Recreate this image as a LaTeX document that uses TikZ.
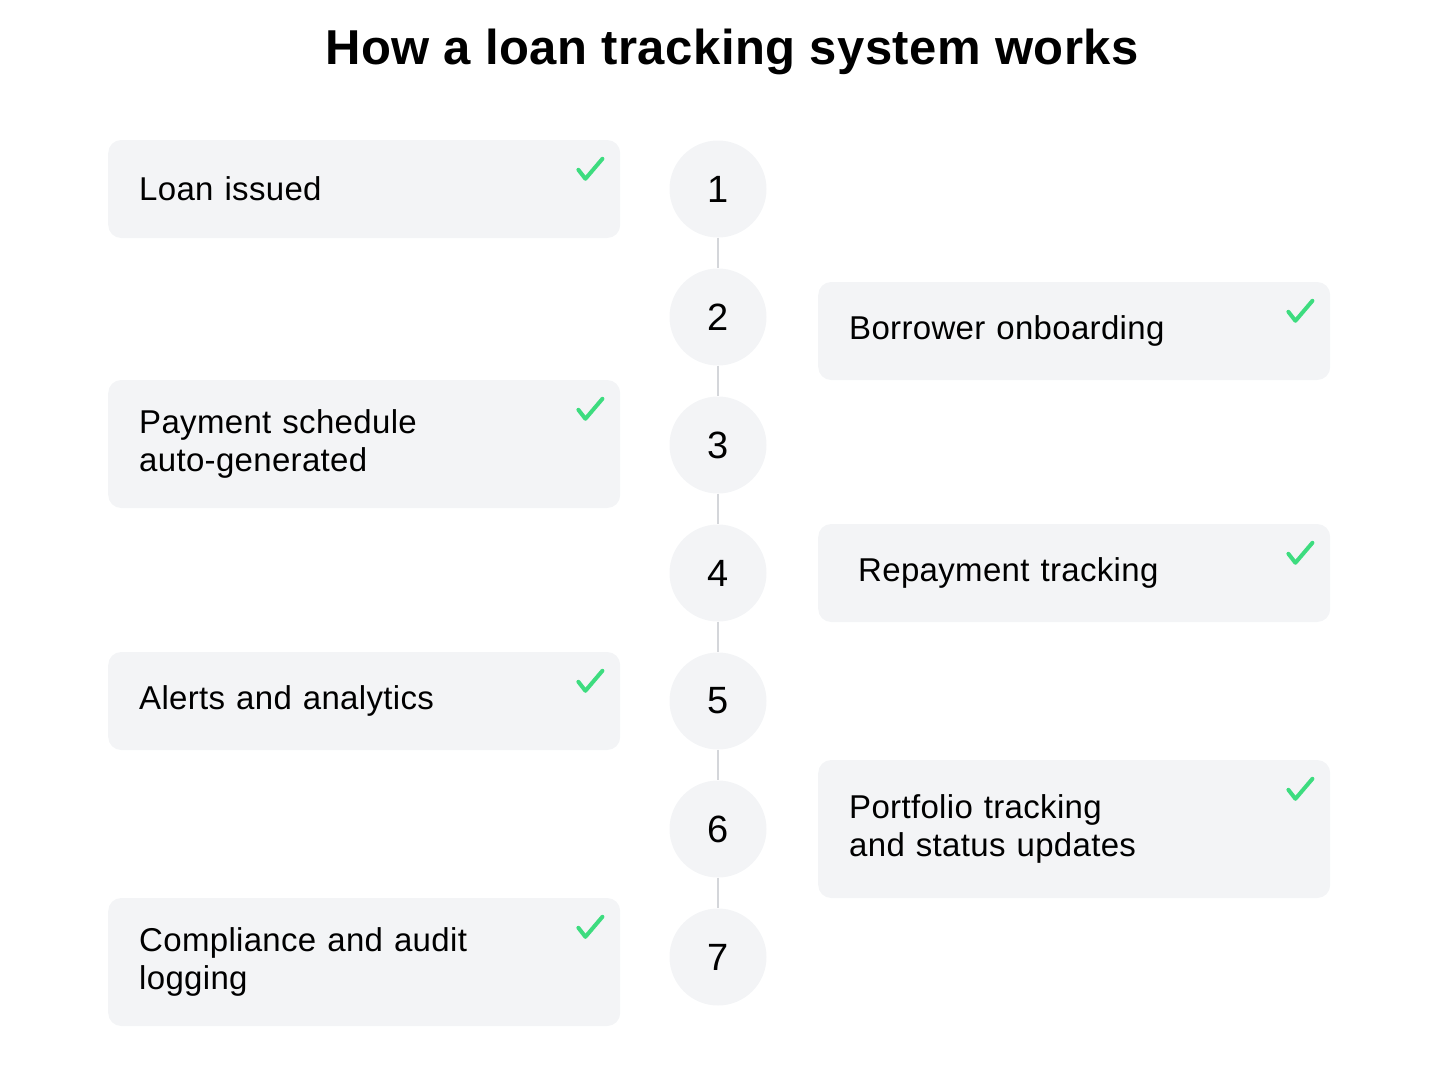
\documentclass[tikz,border=0pt]{standalone}
\usepackage{fontspec}
\setmainfont[LetterSpace=1]{Liberation Sans}
\usetikzlibrary{positioning}
\definecolor{cardgray}{HTML}{F3F4F6}
\definecolor{linkgray}{HTML}{D4D6DA}
\definecolor{tickgreen}{HTML}{3DDC7F}
\begin{document}
\begin{tikzpicture}[x=1pt,y=-1pt,
  card/.style={rectangle,fill=cardgray,rounded corners=13pt,anchor=west,minimum width=512pt,minimum height=98pt,text width=450pt,inner xsep=31pt,align=left,font=\fontsize{33}{38}\selectfont},
  stepnum/.style={circle,fill=cardgray,minimum size=97pt,inner sep=0pt,font=\fontsize{38}{38}\selectfont},
  link/.style={draw=linkgray,line width=2pt},
  tick/.style={draw=tickgreen,line width=4pt,line cap=round,line join=round}]
\useasboundingbox (0,0) rectangle (1440,1076);
\node[font=\bfseries\fontsize{49}{55}\selectfont] (title) at (732,52) {How a loan tracking system works};
% numbered steps down the middle
\foreach \n in {1,...,7} {
   \node[stepnum] (s\n) at (718,61+128*\n) {\n};
}
\foreach \a/\b in %
{1/2,2/3,3/4,4/5,5/6,6/7} {
   \draw[link] (s\a) -- (s\b);
}
% cards, left and right
\node[card] (loan) at (108,189) {Loan issued};
\node[card] (onboard) at (818,331) {Borrower onboarding};
\node[card,minimum height=128pt] (schedule) at (108,444) {Payment schedule\\auto-generated};
\node[card,inner xsep=40pt,text width=432pt] (repay) at (818,573) {Repayment tracking};
\node[card] (alerts) at (108,701) {Alerts and analytics};
\node[card,minimum height=138pt] (portfolio) at (818,829) {Portfolio tracking\\and status updates};
\node[card,minimum height=128pt] (audit) at (108,962) {Compliance and audit\\logging};
\foreach \c in %
{loan,onboard,schedule,repay,alerts,portfolio,audit} {
   \draw[tick] ([shift={(-42,30)}]\c.north east) -- ++(7,9) -- ++(17,-20);
}
\end{tikzpicture}
\end{document}
